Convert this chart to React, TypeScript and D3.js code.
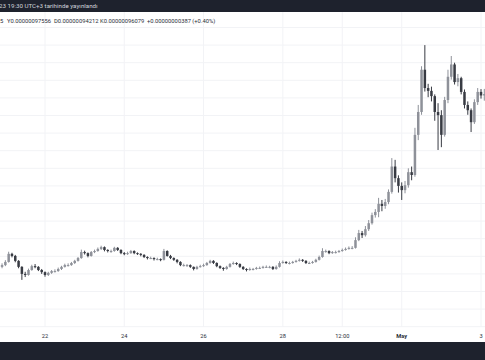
import React from 'react';
import * as d3 from 'd3';

const W = 485;
const H = 360;

// 2-hour candles, starting 20 Apr 2023 22:00 (price in units of 1e-8)
const firstOpen = 47.0;
const closes = [
  47.5, 48.4, 50.7, 50.1, 48.7, 47.0, 45.0, 44.7, 46.1, 47.2,
  47.0, 46.1, 45.5, 44.7, 45.3, 45.8, 45.8, 46.4, 47.0, 47.5,
  47.5, 48.1, 48.7, 49.5, 51.2, 50.9, 50.1, 51.2, 51.5, 52.1,
  52.6, 51.8, 51.5, 51.5, 52.4, 51.8, 50.9, 50.7, 50.9, 51.5,
  50.9, 50.7, 50.4, 49.8, 49.5, 49.5, 49.2, 49.2, 49.0, 51.5,
  50.1, 49.5, 49.0, 48.4, 47.5, 47.5, 47.5, 47.0, 46.4, 47.0,
  47.2, 47.5, 48.1, 48.7, 48.1, 47.2, 46.7, 46.4, 47.0, 47.8,
  48.1, 47.8, 47.0, 46.4, 46.1, 46.4, 46.4, 46.7, 46.7, 47.0,
  47.0, 47.0, 46.4, 47.0, 48.1, 48.4, 48.1, 48.1, 48.4, 48.7,
  49.0, 48.7, 48.1, 48.1, 48.4, 49.0, 49.8, 51.5, 51.5, 50.9,
  51.2, 51.2, 51.5, 51.8, 52.1, 52.4, 52.4, 54.6, 56.6, 56.0,
  57.7, 59.4, 61.7, 62.6, 64.9, 64.3, 65.4, 68.3, 75.5, 72.2,
  70.0, 68.8, 70.2, 73.9, 73.1, 84.5, 91.0, 103.0, 97.8, 97.0,
  95.5, 91.0, 90.1, 84.5, 94.4, 101.0, 104.5, 99.5, 100.6, 96.7,
  93.0, 91.5, 88.1, 93.8, 96.7, 95.692, 96.079,
];
const highs = [
  48.0, 48.9, 51.3, 51.0, 50.4, 48.9, 47.2, 45.6, 46.5, 47.6,
  47.8, 47.2, 46.4, 45.7, 45.6, 46.1, 46.3, 46.8, 47.3, 47.9,
  48.0, 48.4, 49.0, 49.8, 51.9, 51.6, 51.1, 51.5, 51.9, 52.5,
  53.0, 52.8, 52.0, 51.9, 52.7, 52.6, 52.0, 51.2, 51.3, 51.8,
  51.7, 51.1, 50.9, 50.6, 50.0, 49.9, 49.7, 49.6, 49.4, 52.1,
  51.7, 50.4, 49.7, 49.2, 48.6, 47.9, 47.8, 47.7, 47.1, 47.3,
  47.6, 47.9, 48.4, 49.0, 48.9, 48.3, 47.4, 46.9, 47.3, 48.1,
  48.5, 48.3, 48.0, 47.2, 46.6, 46.8, 46.7, 47.0, 47.1, 47.3,
  47.4, 47.3, 47.2, 47.4, 48.6, 48.8, 48.6, 48.5, 48.7, 49.0,
  49.4, 49.2, 48.9, 48.5, 48.7, 49.3, 50.2, 52.3, 51.9, 51.7,
  51.5, 51.6, 51.8, 52.2, 52.5, 52.8, 52.9, 55.4, 57.5, 57.2,
  58.6, 60.3, 62.4, 63.4, 66.6, 66.0, 66.3, 69.0, 77.9, 77.4,
  73.0, 71.0, 71.4, 75.0, 75.5, 86.5, 93.0, 104.0, 110.0, 99.0,
  98.2, 96.0, 93.5, 91.5, 95.3, 103.0, 106.9, 105.0, 101.8, 101.0,
  97.4, 94.0, 92.0, 94.6, 97.8, 97.5, 97.556,
];
const lows = [
  46.6, 47.2, 48.2, 49.7, 48.3, 46.6, 43.3, 44.1, 44.5, 45.9,
  46.6, 45.8, 45.0, 44.2, 44.4, 45.0, 45.4, 45.6, 46.1, 46.8,
  47.1, 47.3, 47.8, 48.5, 49.3, 50.5, 49.7, 49.9, 50.9, 51.3,
  51.8, 51.4, 51.1, 51.0, 51.3, 51.5, 50.6, 50.3, 50.4, 50.7,
  50.6, 50.4, 50.0, 49.5, 49.1, 49.2, 48.8, 48.9, 48.6, 48.8,
  49.9, 49.2, 48.7, 48.0, 47.2, 47.1, 47.0, 46.7, 46.0, 46.2,
  46.8, 47.0, 47.3, 47.9, 47.8, 46.9, 46.4, 45.9, 46.2, 46.8,
  47.6, 47.5, 46.7, 46.1, 45.7, 45.9, 46.0, 46.2, 46.4, 46.5,
  46.7, 46.6, 46.1, 46.2, 46.8, 47.9, 47.8, 47.7, 47.9, 48.2,
  48.5, 48.4, 47.8, 47.8, 47.9, 48.2, 48.8, 49.6, 51.0, 50.6,
  50.7, 50.8, 51.0, 51.3, 51.6, 51.9, 52.0, 52.2, 54.3, 55.2,
  55.6, 57.2, 59.0, 61.0, 61.1, 62.8, 63.5, 64.8, 67.8, 71.0,
  68.1, 66.0, 67.9, 69.5, 71.6, 72.6, 83.0, 90.2, 96.8, 95.2,
  94.0, 88.5, 80.2, 81.0, 84.0, 93.5, 100.2, 98.8, 98.3, 96.0,
  92.0, 90.2, 85.3, 87.6, 93.0, 94.8, 94.212,
];

const startTime = Date.UTC(2023, 3, 20, 22);
const barMs = 2 * 3600 * 1000;

const tickDates = [
  Date.UTC(2023, 3, 22), Date.UTC(2023, 3, 24), Date.UTC(2023, 3, 26),
  Date.UTC(2023, 3, 28), Date.UTC(2023, 3, 29, 12), Date.UTC(2023, 4, 1),
  Date.UTC(2023, 4, 3),
];
const tickLabels = ['22', '24', '26', '28', '12:00', 'May', '3'];
const boldTicks = ['May'];

const headerText = '23 19:30 UTC+3 tarihinde yayınlandı';
const legendItems = ['5', 'Y0.00000097556', 'D0.00000094212', 'K0.00000096079', '+0.00000000387 (+0.40%)'];

const UP = '#8e9199';
const DOWN = '#383b43';
const FONT = 'Roboto, "Liberation Sans", sans-serif';

export default function App() {
  const x = d3.scaleUtc()
    .domain([new Date(tickDates[0]), new Date(tickDates[6])])
    .range([45, 481]);
  const y = d3.scaleLinear().domain([30, 115]).range([326.7, 27.5]);

  const candles = closes.map((c, i) => ({
    t: new Date(startTime + i * barMs),
    o: i === 0 ? firstOpen : closes[i - 1],
    c,
    h: highs[i],
    l: lows[i],
  }));

  const gridY = d3.range(30, 116, 5);
  const legendX = [0, 7, 54, 100, 147];
  const bodyW = 2.5;

  return (
    <svg width={W} height={H} style={{ position: 'absolute', left: 0, top: 0, background: '#fff' }}
      fontFamily={FONT}>
      <rect x={0} y={0} width={W} height={H} fill="#ffffff" />
      {gridY.map((v) => (
        <line key={'gy' + v} x1={0} x2={W} y1={y(v)} y2={y(v)} stroke="#f2f3f6" strokeWidth={1} />
      ))}
      {tickDates.map((d, i) => (
        <line key={'gx' + i} x1={x(new Date(d))} x2={x(new Date(d))} y1={12} y2={327}
          stroke="#f2f3f6" strokeWidth={1} />
      ))}
      {candles.map((d, i) => {
        const cx = x(d.t);
        const up = d.c >= d.o;
        const col = up ? UP : DOWN;
        const top = y(Math.max(d.o, d.c));
        const bot = y(Math.min(d.o, d.c));
        return (
          <g key={i}>
            <line x1={cx} x2={cx} y1={y(d.h)} y2={y(d.l)} stroke={col} strokeWidth={1} />
            <rect x={cx - bodyW / 2} y={top} width={bodyW} height={Math.max(1, bot - top)} fill={col} />
          </g>
        );
      })}
      <rect x={0} y={0} width={W} height={12} fill="#1e222d" />
      <text x={-1} y={8.3} fontSize={6.2} fill="#d1d4dc">{headerText}</text>
      {legendItems.map((s, i) => (
        <text key={'lg' + i} x={legendX[i]} y={23.2} fontSize={5.8} fill="#2a2e39">{s}</text>
      ))}
      {tickDates.map((d, i) => (
        <text key={'tl' + i} x={x(new Date(d))} y={337.6} fontSize={5.7} textAnchor="middle"
          fill="#2a2e39" fontWeight={boldTicks.includes(tickLabels[i]) ? 'bold' : 'normal'}>
          {tickLabels[i]}
        </text>
      ))}
      <rect x={0} y={342} width={W} height={18} fill="#1e222d" />
    </svg>
  );
}
